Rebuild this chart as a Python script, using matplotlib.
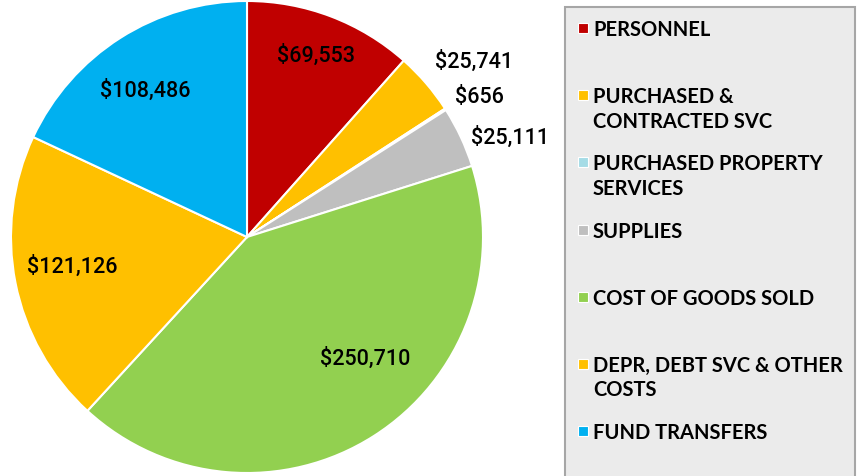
import numpy as np
import matplotlib
matplotlib.use("Agg")
import matplotlib.pyplot as plt
from matplotlib.patches import Rectangle

# data
categories = ["PERSONNEL", "PURCHASED &\nCONTRACTED SVC", "PURCHASED PROPERTY\nSERVICES",
              "SUPPLIES", "COST OF GOODS SOLD", "DEPR, DEBT SVC & OTHER\nCOSTS", "FUND TRANSFERS"]
values = [69553, 25741, 656, 25111, 250710, 121126, 108486]
colors = ["#C00000", "#FFC000", "#A5DCE6", "#BFBFBF", "#92D050", "#FFC000", "#00B0F0"]

# label placement: radius (fraction of pie radius), angle nudge (deg), outside flag
lab_r = [0.82, 1.09, 1.06, 1.04, 0.72, 0.75, 0.755]
lab_nudge = [0, 2.4, 1.1, -1.1, 11.8, -1.5, 2.4]
lab_out = [False, True, True, True, False, False, False]

W, H = 862, 476
fig = plt.figure(figsize=(W / 100, H / 100), dpi=100)
fig.patch.set_facecolor("white")

# pie axes: center (247,237), radius 236 px
cx, cy, R = 247, 237, 236
ax = fig.add_axes([(cx - R) / W, (H - cy - R) / H, 2 * R / W, 2 * R / H])
wedges, _ = ax.pie(values, colors=colors, startangle=90, counterclock=False,
                   radius=1.0, wedgeprops=dict(edgecolor="white", linewidth=1.5))
ax.set_xlim(-1, 1)
ax.set_ylim(-1, 1)
ax.set_aspect("equal")
ax.axis("off")

for w, v, r, nd, out in zip(wedges, values, lab_r, lab_nudge, lab_out):
    ang = np.deg2rad((w.theta1 + w.theta2) / 2 + nd)
    x, y = r * np.cos(ang), r * np.sin(ang)
    ax.text(x, y, "${:,}".format(v), ha="left" if out else "center", va="center",
            fontsize=15.5, family="Roboto", fontweight="medium", color="black",
            clip_on=False)

# legend box
lax = fig.add_axes([0, 0, 1, 1])
lax.set_xlim(0, W)
lax.set_ylim(H, 0)
lax.axis("off")
lax.add_patch(Rectangle((565, 7), 290, 480, facecolor="#EBEBEB", edgecolor="#A6A6A6",
                        linewidth=1.5, clip_on=False))
for i, (cat, col) in enumerate(zip(categories, colors)):
    yy = 28 + i * 67.2
    lax.add_patch(Rectangle((578, yy - 5), 10, 10, facecolor=col, edgecolor="white", linewidth=0.8))
    lax.text(593, yy - 8, cat, ha="left", va="top", fontsize=14.5, family="Lato",
             fontweight="bold", color="black", linespacing=1.28)

fig.savefig("out.png", dpi=100)
